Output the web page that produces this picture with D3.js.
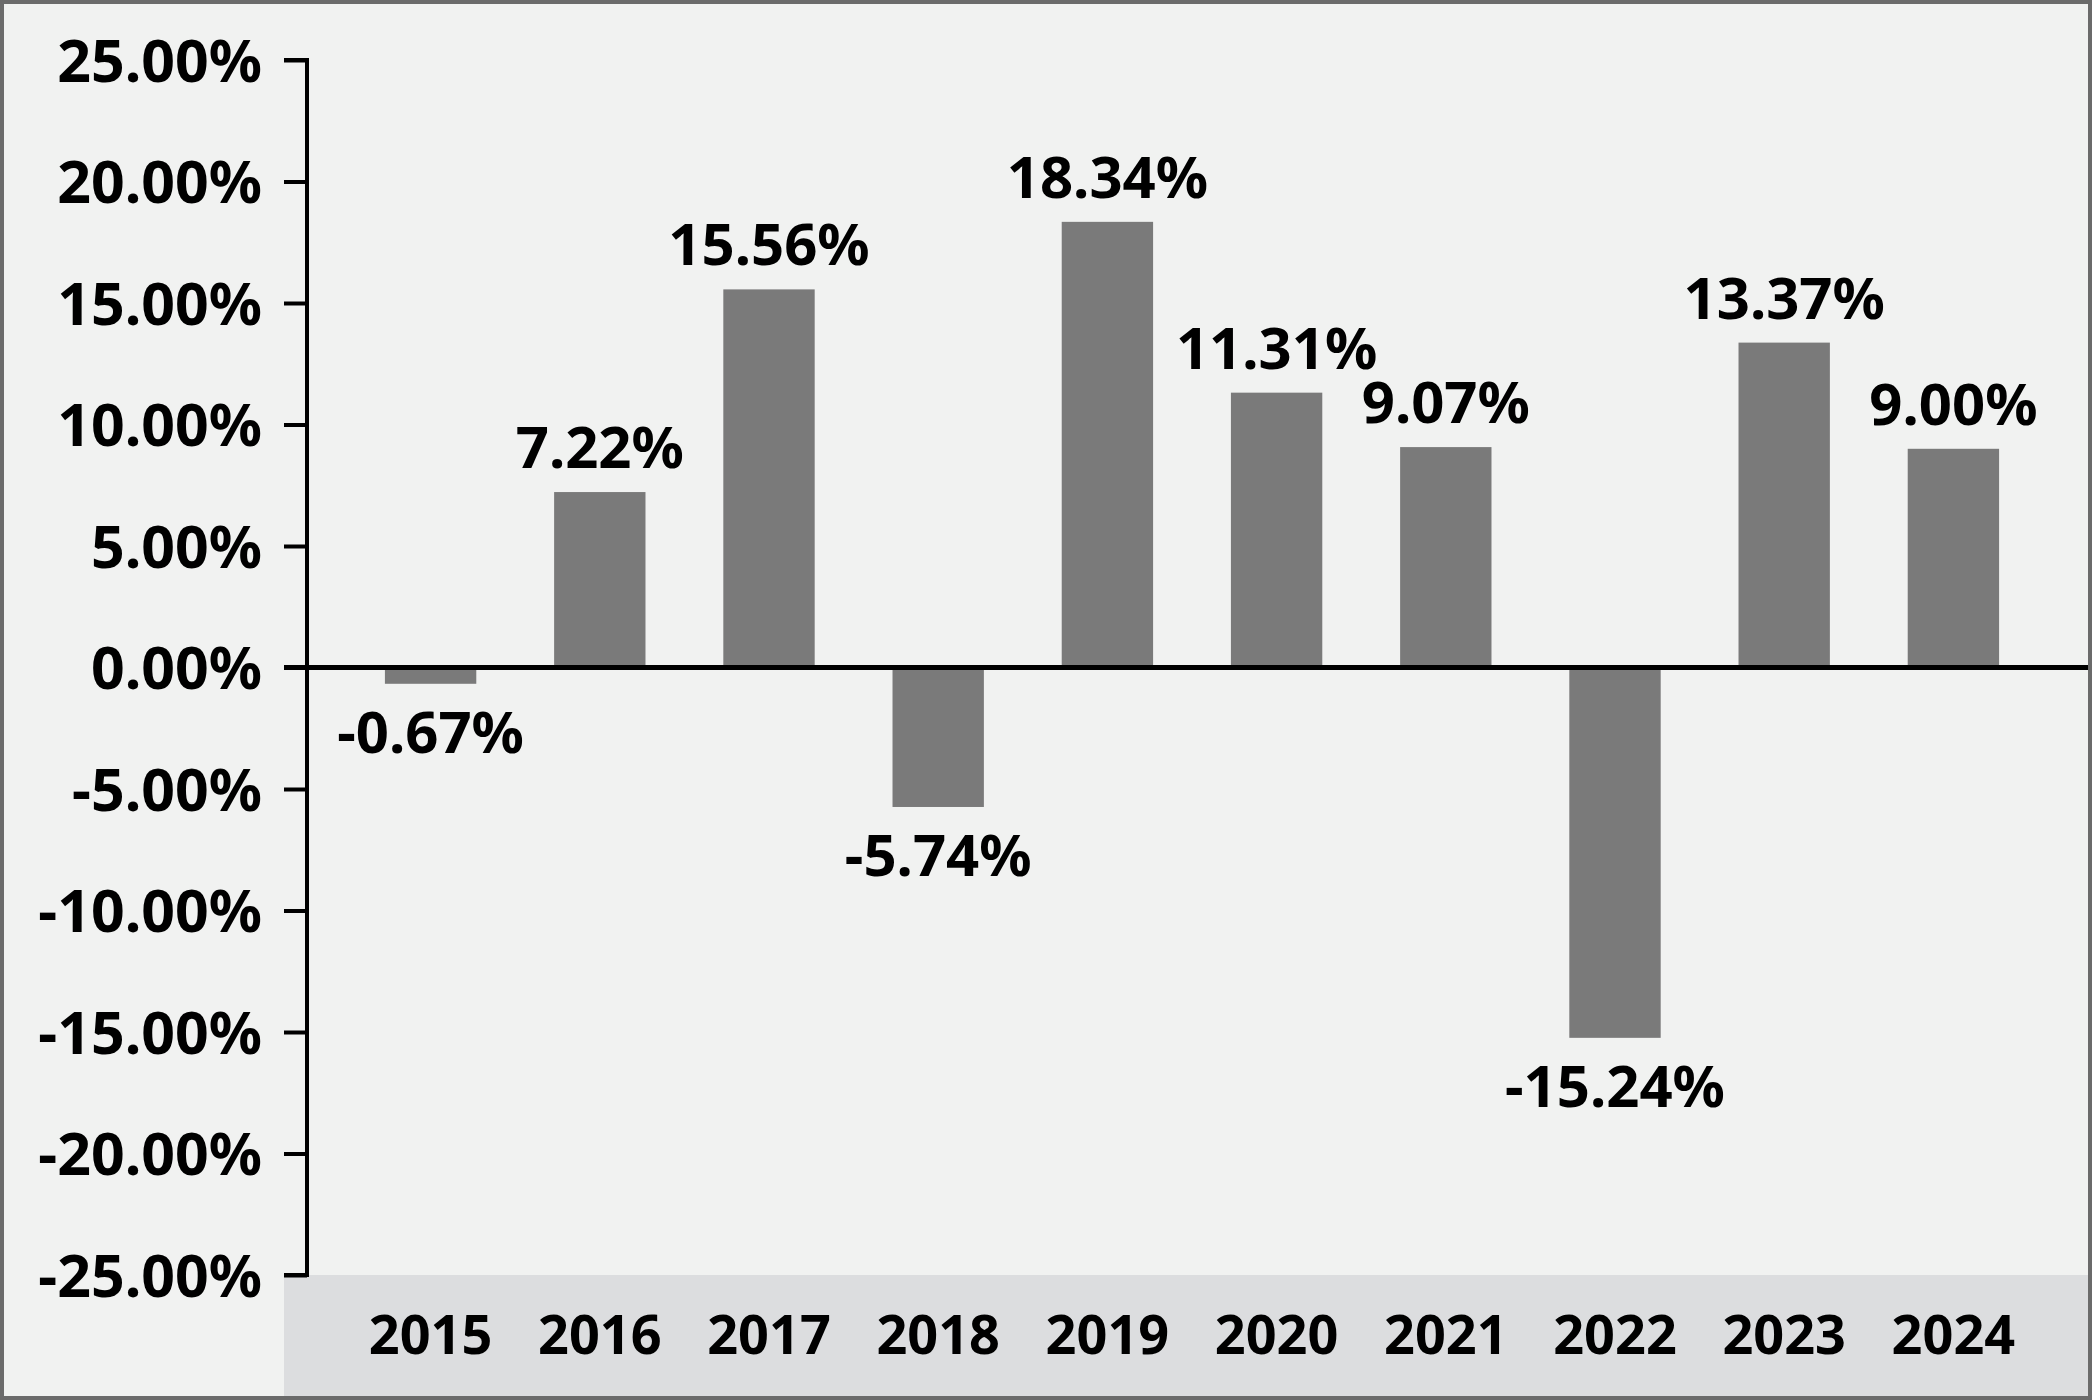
<!DOCTYPE html>
<html>
<head>
<meta charset="utf-8">
<script src="https://cdn.jsdelivr.net/npm/d3@7"></script>
<style>
  body { margin: 0; background: #f2f3f2; }
  text { font-family: "Noto Sans", "Open Sans", sans-serif; font-weight: bold; fill: #000; }
</style>
</head>
<body>
<div id="chart"></div>
<script>
// data
var years = ["2015", "2016", "2017", "2018", "2019", "2020", "2021", "2022", "2023", "2024"];
var returns = [-0.67, 7.22, 15.56, -5.74, 18.34, 11.31, 9.07, -15.24, 13.37, 9.00];
var yTicks = [25, 20, 15, 10, 5, 0, -5, -10, -15, -20, -25];

var W = 2092, H = 1400;
var data = years.map(function(y, i) { return {year: y, value: returns[i]}; });

var svg = d3.select("#chart").append("svg")
    .attr("width", W)
    .attr("height", H);

// background + outer border
svg.append("rect")
    .attr("x", 2).attr("y", 2)
    .attr("width", W - 4).attr("height", H - 4)
    .attr("fill", "#f1f2f1")
    .attr("stroke", "#6b6b6b")
    .attr("stroke-width", 4);

var y = d3.scaleLinear()
    .domain([-25, 25])
    .range([1275, 60]);

var x = d3.scaleBand()
    .domain(years)
    .range([346, 2038])
    .paddingInner(0.46)
    .paddingOuter(0.23);

// grey band behind the year labels
svg.append("rect")
    .attr("x", 284)
    .attr("y", y(-25))
    .attr("width", W - 4 - 284)
    .attr("height", H - 4 - y(-25))
    .attr("fill", "#dcdddf");

// bars
svg.selectAll("rect.bar")
    .data(data)
    .enter()
    .append("rect")
      .attr("class", "bar")
      .attr("x", function(d) { return x(d.year); })
      .attr("y", function(d) { return y(Math.max(0, d.value)); })
      .attr("width", x.bandwidth())
      .attr("height", function(d) { return Math.abs(y(d.value) - y(0)); })
      .attr("fill", "#7a7a7a");

// y axis
var yAxis = svg.append("g")
    .attr("transform", "translate(307,0)")
    .call(d3.axisLeft(y)
      .tickValues(yTicks)
      .tickSize(23)
      .tickPadding(22)
      .tickFormat(function(d) { return d.toFixed(2) + "%"; }));

yAxis.select(".domain")
    .attr("d", "M-23," + y(25) + "H0V" + y(-25) + "H-23")
    .attr("stroke", "#000")
    .attr("stroke-width", 4);
yAxis.selectAll(".tick line").attr("stroke", "#000").attr("stroke-width", 4);
yAxis.selectAll(".tick text")
    .attr("font-size", 59)
    .attr("dy", "0.36em")
    .style("font-family", "'Noto Sans', sans-serif")
    .style("font-weight", "bold");

// zero line
svg.append("line")
    .attr("x1", 284).attr("x2", W - 4)
    .attr("y1", y(0)).attr("y2", y(0))
    .attr("stroke", "#000")
    .attr("stroke-width", 5);

// value labels
svg.selectAll("text.val")
    .data(data)
    .enter()
    .append("text")
      .attr("class", "val")
      .attr("x", function(d) { return x(d.year) + x.bandwidth() / 2; })
      .attr("y", function(d) {
        return d.value >= 0 ? y(d.value) - 24 : y(d.value) + 69;
      })
      .attr("text-anchor", "middle")
      .attr("font-size", 58)
      .text(function(d) { return d.value.toFixed(2) + "%"; });

// year labels
svg.selectAll("text.year")
    .data(years)
    .enter()
    .append("text")
      .attr("class", "year")
      .attr("x", function(d) { return x(d) + x.bandwidth() / 2; })
      .attr("y", 1354)
      .attr("text-anchor", "middle")
      .attr("font-size", 54)
      .text(function(d) { return d; });
</script>
</body>
</html>
